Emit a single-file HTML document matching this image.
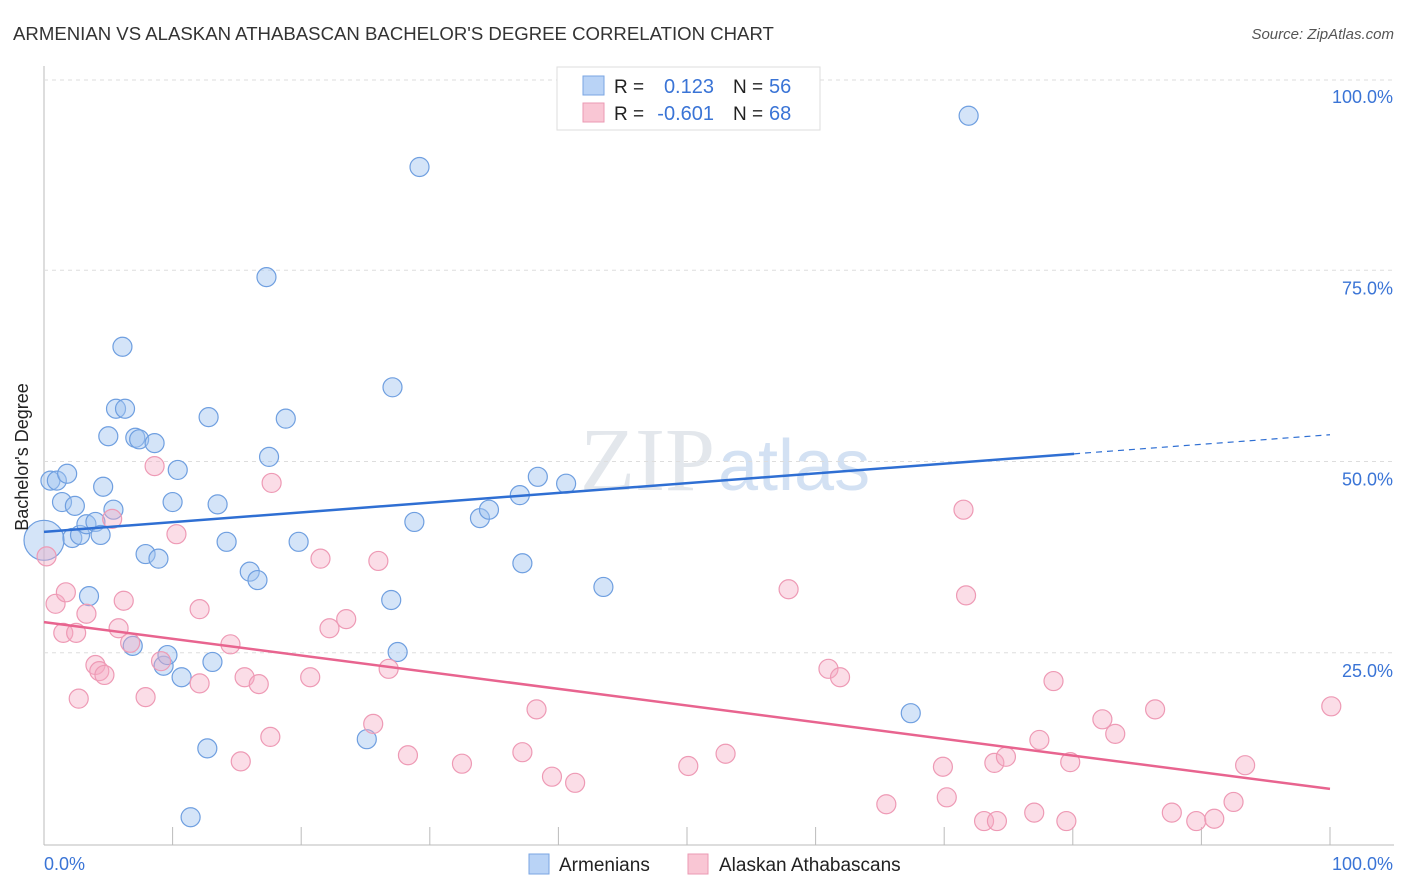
<!DOCTYPE html>
<html><head><meta charset="utf-8"><style>
body{margin:0;background:#fff;font-family:"Liberation Sans",sans-serif;}
#wrap{position:relative;width:1406px;height:892px;overflow:hidden;}
</style></head><body>
<div id="wrap">
<svg id="svg" width="1406" height="892" xmlns="http://www.w3.org/2000/svg">
<text x="13" y="40" font-size="18.6" fill="#333">ARMENIAN VS ALASKAN ATHABASCAN BACHELOR'S DEGREE CORRELATION CHART</text>
<text x="1394" y="39" font-size="15" fill="#555" text-anchor="end" font-style="italic">Source: ZipAtlas.com</text>
<text x="715" y="490" font-size="90" fill="#e3e7ec" text-anchor="end" font-family="Liberation Serif">ZIP</text>
<text x="718" y="490" font-size="72" fill="#d3e1f3">atlas</text>
<g id="grid"></g>
<g id="pts"></g>
<g id="lines"></g>
<text x="28" y="457" font-size="18" fill="#222" text-anchor="middle" transform="rotate(-90 28 457)">Bachelor's Degree</text>
<g>
<rect x="557" y="67" width="263" height="63" fill="#fff" stroke="#ddd"/>
<rect x="583" y="76" width="21" height="19" fill="#b9d3f6" stroke="#7aa6e3"/>
<rect x="583" y="103" width="21" height="19" fill="#f9c6d4" stroke="#eb9ab3"/>
<text x="614" y="93" font-size="19" fill="#222">R = </text><text x="714" y="93" font-size="20" fill="#3a74d6" text-anchor="end">0.123</text>
<text x="733" y="93" font-size="19" fill="#222">N = </text><text x="769" y="93" font-size="20" fill="#3a74d6">56</text>
<text x="614" y="120" font-size="19" fill="#222">R = </text><text x="714" y="120" font-size="20" fill="#3a74d6" text-anchor="end">-0.601</text>
<text x="733" y="120" font-size="19" fill="#222">N = </text><text x="769" y="120" font-size="20" fill="#3a74d6">68</text>
</g>
<g>
<rect x="529" y="854" width="20" height="20" fill="#b9d3f6" stroke="#7aa6e3"/>
<text x="559" y="871" font-size="19" fill="#222">Armenians</text>
<rect x="688" y="854" width="20" height="20" fill="#f9c6d4" stroke="#eb9ab3"/>
<text x="719" y="871" font-size="19" fill="#222">Alaskan Athabascans</text>
</g>
</svg>
</div>
<script>
const xTicks=[0,10,20,30,40,50,60,70,80,90,100];
const yTicks=[25,50,75,100];
const yTickLabels=["25.0%","50.0%","75.0%","100.0%"];
const blueX=[0.5,1.0,1.8,1.4,2.4,2.2,2.8,3.3,4.0,4.4,4.6,3.5,5.0,5.4,5.6,6.3,6.1,7.1,7.4,8.6,7.9,8.9,10.0,10.4,12.8,13.5,14.2,16.0,16.6,17.3,17.5,18.8,19.8,6.9,9.3,9.6,10.7,13.1,12.7,11.4,25.1,27.0,27.1,27.5,28.8,29.2,33.9,34.6,37.0,37.2,38.4,40.6,43.5,67.4,71.9,0];
const blueY=[47.5,47.5,48.4,44.7,44.2,40.0,40.4,41.8,42.1,40.4,46.7,32.4,53.3,43.7,56.9,56.9,65.0,53.1,52.9,52.4,37.9,37.3,44.7,48.9,55.8,44.4,39.5,35.6,34.5,74.1,50.6,55.6,39.5,25.9,23.3,24.7,21.8,23.8,12.5,3.5,13.7,31.9,59.7,25.1,42.1,88.5,42.6,43.7,45.6,36.7,48.0,47.1,33.6,17.1,95.2,39.7];
const pinkX=[0.2,0.9,1.7,1.5,2.5,3.3,2.7,4.0,4.3,4.7,5.3,5.8,6.2,6.7,7.9,8.6,9.1,10.3,12.1,12.1,14.5,15.3,15.6,16.7,17.6,17.7,20.7,21.5,22.2,23.5,25.6,26.0,26.8,28.3,32.5,37.2,38.3,39.5,41.3,50.1,53.0,57.9,61.0,61.9,65.5,69.9,70.2,71.5,71.7,73.1,74.1,73.9,74.8,77.0,77.4,78.5,79.5,79.8,82.3,83.3,86.4,87.7,89.6,91.0,92.5,93.4,100.1];
const pinkY=[37.6,31.4,32.9,27.6,27.6,30.1,19.0,23.4,22.6,22.1,42.5,28.2,31.8,26.3,19.2,49.4,23.9,40.5,30.7,21.0,26.1,10.8,21.8,20.9,14.0,47.2,21.8,37.3,28.2,29.4,15.7,37.0,22.9,11.6,10.5,12.0,17.6,8.8,8.0,10.2,11.8,33.3,22.9,21.8,5.2,10.1,6.1,43.7,32.5,3.0,3.0,10.6,11.4,4.1,13.6,21.3,3.0,10.7,16.3,14.4,17.6,4.1,3.0,3.3,5.5,10.3,18.0];
const blueTrend=[0,40.8,80.1,51.0,100,53.5];
const pinkTrend=[0,29.0,100,7.2];
const NS="http://www.w3.org/2000/svg";
const X=v=>44+v*12.86, Y=v=>844-v*7.65;
function mk(t,a,p){const e=document.createElementNS(NS,t);for(const k in a)e.setAttribute(k,a[k]);p.appendChild(e);return e;}
const g=document.getElementById('grid');
mk('line',{x1:44,y1:66,x2:44,y2:845,stroke:'#bbb'},g);
mk('line',{x1:44,y1:845,x2:1394,y2:845,stroke:'#bbb'},g);
mk('line',{x1:44,y1:Y(100)+1,x2:1394,y2:Y(100)+1,stroke:'#ddd','stroke-dasharray':'4,4'},g);
yTicks.forEach((v,i)=>{
 if(v<100){const l=mk('line',{x1:44,y1:Y(v),x2:1394,y2:Y(v),stroke:'#ddd','stroke-dasharray':'4,4'},g);
 
 }
 const t=mk('text',{x:1393,y:Y(v)+24,'font-size':18,fill:'#3a74d6','text-anchor':'end'},g);t.textContent=yTickLabels[i];
 
 
});
xTicks.forEach(v=>{const l=mk('line',{x1:X(v),y1:827,x2:X(v),y2:845,stroke:'#bbb'},g);
 
 });
let t=mk('text',{x:44,y:870,'font-size':18,fill:'#3a74d6'},g);t.textContent='0.0%';


t=mk('text',{x:1393,y:870,'font-size':18,fill:'#3a74d6','text-anchor':'end'},g);t.textContent='100.0%';


const p=document.getElementById('pts');
blueX.forEach((x,i)=>{const r=(x===0&&i===blueX.length-1)?20:9.5;
 const c=mk('circle',{cx:X(x),cy:Y(blueY[i]),r:r,fill:'rgba(160,195,240,0.45)',stroke:'#6f9fe0','stroke-width':1.2},p);
 
 });
pinkX.forEach((x,i)=>{const c=mk('circle',{cx:X(x),cy:Y(pinkY[i]),r:9.5,fill:'rgba(245,170,195,0.4)',stroke:'#ee9ab5','stroke-width':1.2},p);
 
 });
const L=document.getElementById('lines');
let l=mk('line',{x1:X(blueTrend[0]),y1:Y(blueTrend[1]),x2:X(blueTrend[2]),y2:Y(blueTrend[3]),stroke:'#2f6fd3','stroke-width':2.5},L);


l=mk('line',{x1:X(blueTrend[2]),y1:Y(blueTrend[3]),x2:X(blueTrend[4]),y2:Y(blueTrend[5]),stroke:'#2f6fd3','stroke-width':1.2,'stroke-dasharray':'6,5'},L);


l=mk('line',{x1:X(pinkTrend[0]),y1:Y(pinkTrend[1]),x2:X(pinkTrend[2]),y2:Y(pinkTrend[3]),stroke:'#e8648f','stroke-width':2.5},L);


</script>
</body></html>
